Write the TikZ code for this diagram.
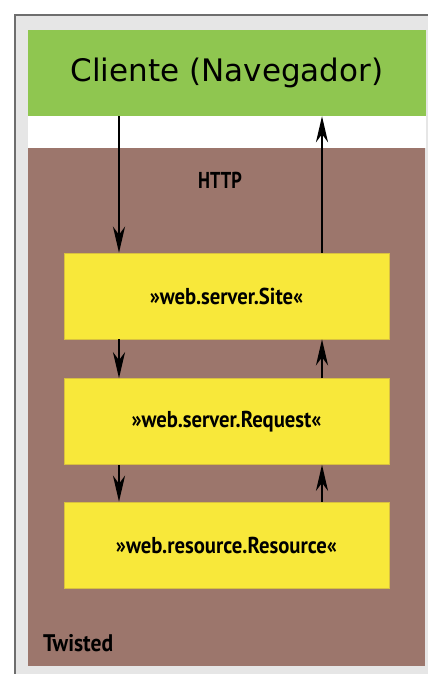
\documentclass[tikz,border=0pt]{standalone}
\usepackage{fontspec}
\setmainfont{DejaVu Sans}
\newfontfamily\labelfont[FakeStretch=0.9]{PT Sans}
\newfontfamily\narrowfont[FakeStretch=0.8]{PT Sans}
\usetikzlibrary{arrows.meta}

\definecolor{pagegray}{HTML}{E6E6E6}
\definecolor{rulegray}{HTML}{6E6E6E}
\definecolor{clientgreen}{HTML}{8FC650}
\definecolor{twistedbrown}{HTML}{9C766C}
\definecolor{boxyellow}{HTML}{F8E83A}
\definecolor{boxedge}{HTML}{D8C040}

\tikzset{
  layerbox/.style={fill=boxyellow, draw=boxedge, line width=0.6pt,
    minimum width=325pt, minimum height=86pt, inner sep=0pt,
    font=\labelfont\bfseries\fontsize{23}{26}\selectfont},
  flow/.style={line width=2.5pt, -{Stealth[length=26pt,width=12pt,inset=8pt]}},
  caption/.style={font=\labelfont\bfseries\fontsize{24}{28}\selectfont, inner sep=0pt}
}

\begin{document}
\begin{tikzpicture}[x=1pt,y=-1pt]
  \useasboundingbox (0,0) rectangle (428,674);
  % page frame
  \fill[white] (0,0) rectangle (428,674);
  \fill[pagegray] (15,15) rectangle (428,674);
  \draw[rulegray, line width=1.2pt] (15,674) -- (15,15) -- (428,15);

  % Twisted area and the white gap above it
  \fill[twistedbrown] (28,148) rectangle (425,666);
  \fill[white] (28,115) rectangle (426,148);

  % client
  \node[fill=clientgreen, minimum width=398pt, minimum height=86pt, inner sep=0pt,
        font=\fontsize{31}{35}\selectfont] (client) at (227,73) {Cliente (Navegador)};

  % Twisted layers
  \node[layerbox] (site) at (226.5,296) {»web.server.Site«};
  \node[layerbox] (request) at (226.5,421.5) {»web.server.Request«};
  \node[layerbox] (resource) at (226.5,545) {»web.resource.Resource«};

  \node[caption, font=\narrowfont\bfseries\fontsize{23}{28}\selectfont] (http) at (220,180) {HTTP};
  \node[caption, anchor=base west] (twisted) at (43,651) {Twisted};

  % arrow columns
  \coordinate (down) at (119,0);
  \coordinate (up) at (322,0);

  \draw[flow] (client.south -| down) -- (site.north -| down);
  \draw[flow] (site.north -| up) -- (client.south -| up);
  \draw[flow] (site.south -| down) -- (request.north -| down);
  \draw[flow] (request.north -| up) -- (site.south -| up);
  \draw[flow] (request.south -| down) -- (resource.north -| down);
  \draw[flow] (resource.north -| up) -- (request.south -| up);
\end{tikzpicture}
\end{document}
